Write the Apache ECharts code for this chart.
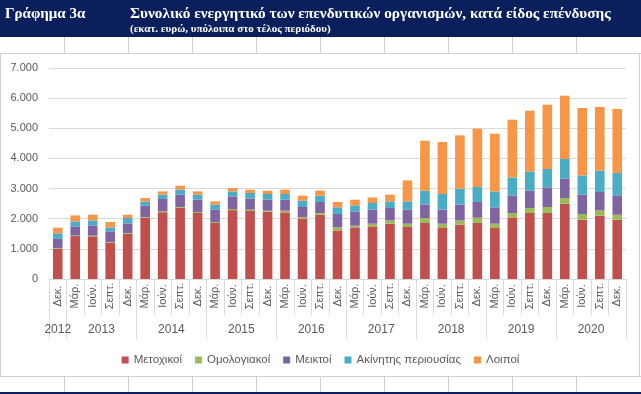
<!DOCTYPE html>
<html>
<head>
<meta charset="utf-8">
<script src="https://cdn.jsdelivr.net/npm/echarts@6/dist/echarts.min.js"></script>
<style>
html,body{margin:0;padding:0;background:#fff;}
#chart{width:641px;height:394px;}
</style>
</head>
<body>
<div id="chart"></div>
<script>
// ---- data ----
const quarterLabels = ['Δεκ.',
  'Μάρ.','Ιούν.','Σεπτ.','Δεκ.',
  'Μάρ.','Ιούν.','Σεπτ.','Δεκ.',
  'Μάρ.','Ιούν.','Σεπτ.','Δεκ.',
  'Μάρ.','Ιούν.','Σεπτ.','Δεκ.',
  'Μάρ.','Ιούν.','Σεπτ.','Δεκ.',
  'Μάρ.','Ιούν.','Σεπτ.','Δεκ.',
  'Μάρ.','Ιούν.','Σεπτ.','Δεκ.',
  'Μάρ.','Ιούν.','Σεπτ.','Δεκ.'];
const yearLabels = ['2012','2013','2014','2015','2016','2017','2018','2019','2020'];
const barsPerYear = [1,4,4,4,4,4,4,4,4];

const seriesNames = ['Μετοχικοί','Ομολογιακοί','Μεικτοί','Ακίνητης περιουσίας','Λοιποί'];
const metochikoi = [1010,1425,1415,1205,1500,2030,2215,2360,2190,1860,2285,2256,2230,2210,1991,2133,1613,1712,1745,1835,1725,1858,1712,1801,1858,1692,2044,2190,2190,2498,1968,2100,1968];
const omologiakoi = [20,22,22,23,26,27,28,30,33,31,37,43,36,56,53,57,100,56,90,109,110,166,123,143,175,143,146,165,199,189,189,177,165];
const meiktoi = [300,298,341,352,319,375,411,408,408,408,419,365,365,365,345,365,445,475,464,411,464,441,464,521,522,541,585,575,652,639,640,609,642];
const akinita = [186,166,166,132,179,143,143,166,166,166,165,189,189,189,209,209,219,199,222,220,276,465,521,532,497,530,596,640,609,656,640,707,740];
const loipoi = [186,199,189,179,109,112,109,132,109,110,113,110,110,143,166,166,179,189,186,222,696,1658,1725,1768,1935,1914,1914,2014,2133,2100,2236,2113,2125];
const yTicks = {min:0, max:7000, interval:1000};

const colors = ['#C0504D','#9BBB59','#8064A2','#4BACC6','#F79646'];
const values = [metochikoi, omologiakoi, meiktoi, akinita, loipoi];

// Year axis: half-step positions (2*n+1 points), year label at group centre, ticks at group boundaries
const nBars = quarterLabels.length;
const yearAxisData = new Array(2*nBars+1).fill('');
const yearBoundaries = new Set([0]);
let start = 0;
barsPerYear.forEach((c, k) => {
  const centreIdx = start + c;
  yearAxisData[centreIdx] = yearLabels[k];
  start += 2*c;
  yearBoundaries.add(start);
});

const navy = '#0b1f5c';
const textGray = '#595959';
const lineGray = '#d9d9d9';
const cellGray = '#d0d0d0';

const graphics = [
  {type:'rect', shape:{x:0,y:0,width:641,height:37}, style:{fill:navy}, silent:true},
  {type:'text', x:5, y:14, style:{text:'Γράφημα 3α', fill:'#fff', font:'bold 15px "Liberation Serif", serif', textVerticalAlign:'middle'}},
  {type:'text', x:130, y:14, style:{text:'Συνολικό ενεργητικό των επενδυτικών οργανισμών, κατά είδος επένδυσης', fill:'#fff', font:'bold 15.3px "Liberation Serif", serif', textVerticalAlign:'middle'}},
  {type:'text', x:130, y:29, style:{text:'(εκατ. ευρώ, υπόλοιπα στο τέλος περιόδου)', fill:'#fff', font:'bold 11px "Liberation Serif", serif', textVerticalAlign:'middle'}},
  {type:'line', shape:{x1:0,y1:53.5,x2:641,y2:53.5}, style:{stroke:cellGray,lineWidth:1}, silent:true},
  {type:'line', shape:{x1:0,y1:376.5,x2:641,y2:376.5}, style:{stroke:cellGray,lineWidth:1}, silent:true},
  {type:'line', shape:{x1:639.5,y1:53,x2:639.5,y2:377}, style:{stroke:cellGray,lineWidth:1}, silent:true},
  {type:'line', shape:{x1:0.5,y1:53,x2:0.5,y2:377}, style:{stroke:cellGray,lineWidth:1}, silent:true},
  {type:'rect', shape:{x:0,y:392,width:641,height:2}, style:{fill:navy}, silent:true}
];
for (let k = 1; k <= 9; k++) {
  const x = 64*k + 0.5;
  graphics.push({type:'line', shape:{x1:x,y1:37,x2:x,y2:53}, style:{stroke:cellGray,lineWidth:1}, silent:true});
  graphics.push({type:'line', shape:{x1:x,y1:377,x2:x,y2:392}, style:{stroke:cellGray,lineWidth:1}, silent:true});
}

const chart = echarts.init(document.getElementById('chart'), null, {renderer:'canvas'});
chart.setOption({
  animation:false,
  backgroundColor:'#fff',
  color: colors,
  textStyle:{fontFamily:'"Liberation Sans", Arial, sans-serif'},
  grid:{left:49, right:15, top:68, bottom:115, containLabel:false},
  legend:{
    top:349, left:'center', icon:'rect', itemWidth:7, itemHeight:7, itemGap:13,
    textStyle:{color:textGray, fontSize:11.5, fontFamily:'"Liberation Sans", Arial, sans-serif'},
    data: seriesNames
  },
  xAxis:[
    {
      type:'category', data:quarterLabels, boundaryGap:true,
      axisLine:{show:true, lineStyle:{color:lineGray}},
      axisTick:{show:true, length:36, lineStyle:{color:lineGray}},
      axisLabel:{rotate:90, interval:0, align:'center', verticalAlign:'middle', margin:17, color:textGray, fontSize:11}
    },
    {
      type:'category', data:yearAxisData, boundaryGap:false, position:'bottom',
      axisLine:{show:false},
      axisTick:{show:true, length:60, interval:(i)=>yearBoundaries.has(i), lineStyle:{color:lineGray}},
      axisLabel:{interval:(i,v)=>v!=='', margin:45, color:textGray, fontSize:12},
      splitLine:{show:false}
    }
  ],
  yAxis:{
    type:'value', min:yTicks.min, max:yTicks.max, interval:yTicks.interval,
    axisLine:{show:false}, axisTick:{show:false},
    splitLine:{lineStyle:{color:lineGray}},
    axisLabel:{color:textGray, fontSize:11, margin:11,
      formatter:(v)=>String(v).replace(/\B(?=(\d{3})+(?!\d))/g,'.')}
  },
  series: seriesNames.map((name, k) => ({
    name, type:'bar', stack:'total', xAxisIndex:0, barWidth:'55%',
    data: values[k], itemStyle:{color:colors[k]}
  })),
  graphic: graphics
});
</script>
</body>
</html>
